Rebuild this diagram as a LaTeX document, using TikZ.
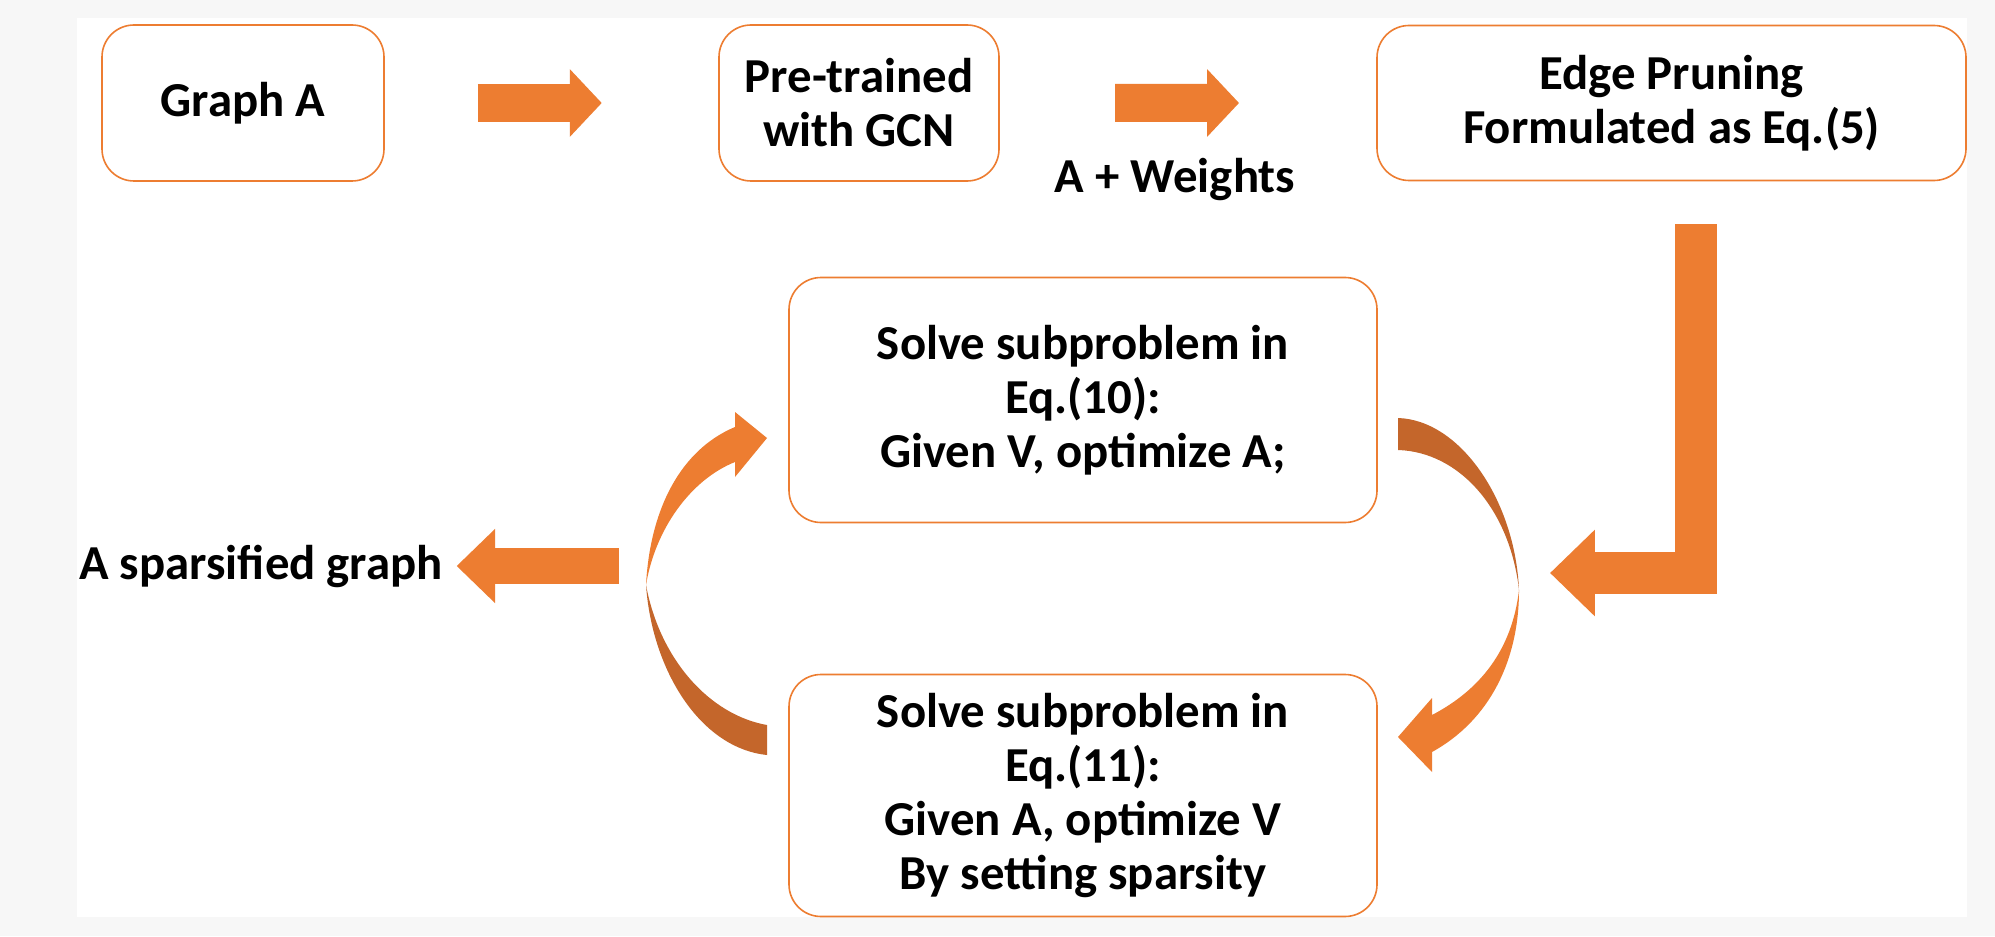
\documentclass[tikz,border=0pt]{standalone}
\usepackage{fontspec}
\setmainfont{Carlito}
\usetikzlibrary{positioning,calc,arrows.meta}
\definecolor{boxorange}{HTML}{ED7D31}
\definecolor{darkorange}{HTML}{C4662B}
\definecolor{margingray}{HTML}{F7F7F7}

\begin{document}
\begin{tikzpicture}[x=0.5pt, y=-0.5pt,
  every node/.style={font=\bfseries\fontsize{24.4}{27}\selectfont, align=center, inner sep=0pt, outer sep=0pt},
  stage/.style={draw=boxorange, line width=0.8pt, rounded corners=16pt, fill=white},
  fat/.style={draw=boxorange, line width=19pt, -{Triangle[length=16pt, width=33pt]}},
  fatter/.style={draw=boxorange, line width=#1, -{Triangle[length=1.07*#1, width=2*#1]}}]
  \fill[margingray] (0,0) rectangle (1995,936);
  \fill[white] (77,18) rectangle (1967,917);
  \useasboundingbox (0,0) rectangle (1995,936);
  \node (graphA) [stage, minimum width=141pt, minimum height=78pt] at (243,103) {Graph A};
  \node (pretrain) [stage, minimum width=140pt, minimum height=78pt, right=167.5pt of graphA] {Pre-trained\\with GCN};
  \node (prune) [stage, minimum width=294.5pt, minimum height=77.5pt, right=189pt of pretrain] {Edge Pruning\\Formulated as Eq.(5)};
  \node (eqten) [stage, minimum width=294pt, minimum height=122.5pt] at (1083,400) {Solve subproblem in\\Eq.(10):\\Given V, optimize A;};
  \node (eqeleven) [stage, minimum width=294pt, minimum height=121pt, below=76pt of eqten] {Solve subproblem in\\Eq.(11):\\Given A, optimize V\\By setting sparsity};
  \node (weights) at (1175,180) {A + Weights};
  \node (sparse) at (261,566) {A sparsified graph};
  \draw[fat, yshift=-1.5pt] ($(graphA.east)!0.28!(pretrain.west)$) -- ($(graphA.east)!0.65!(pretrain.west)$);
  \draw[fat] ($(pretrain.east)!0.307!(prune.west)$) -- ($(pretrain.east)!0.635!(prune.west)$);
  \draw[fatter=21pt] ($(prune.south)+(24,44)$) |- ($(eqten.east)+(173,173)$);
  \draw[fatter=18pt] ($(sparse.east)+(176,0)$) -- ($(sparse.east)+(14,0)$);
  \fill[darkorange] (1398,418) .. controls (1460,420) and (1515,500) .. (1519,590)
    .. controls (1510,510) and (1460,452) .. (1398,450) -- cycle;
  \fill[boxorange] (1519,590) .. controls (1519,660) and (1490,720) .. (1432,752)
    -- (1432,772) -- (1398,737) -- (1432,698) -- (1432,715)
    .. controls (1480,690) and (1512,650) .. (1519,590) -- cycle;
  \fill[darkorange] (767,725) .. controls (710,715) and (660,660) .. (646,585)
    .. controls (652,670) and (700,748) .. (767,755) -- cycle;
  \fill[boxorange] (646,585) .. controls (650,510) and (680,450) .. (735,427)
    -- (735,412) -- (767,438) -- (735,477) -- (735,462)
    .. controls (690,480) and (655,530) .. (646,585) -- cycle;
\end{tikzpicture}
\end{document}
